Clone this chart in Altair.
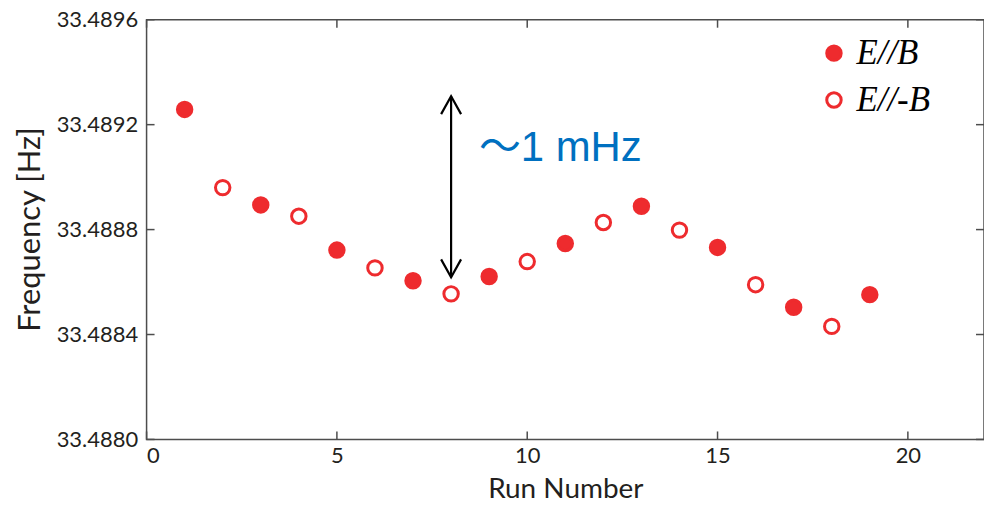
import altair as alt
import pandas as pd

# ---- data ----
runs = [1, 2, 3, 4, 5, 6, 7, 8, 9, 10, 11, 12, 13, 14, 15, 16, 17, 18, 19]
freq = [33.489258, 33.488960, 33.488894, 33.488851, 33.488722, 33.488654,
        33.488605, 33.488555, 33.488621, 33.488678, 33.488747, 33.488827,
        33.488889, 33.488798, 33.488732, 33.488590, 33.488504, 33.488431,
        33.488552]
orient = ["E//B", "E//-B", "E//B", "E//-B", "E//B", "E//-B", "E//B", "E//-B",
          "E//B", "E//-B", "E//B", "E//-B", "E//B", "E//-B", "E//B", "E//-B",
          "E//B", "E//-B", "E//B"]
categories = ["E//B", "E//-B"]

x_ticks = [0, 5, 10, 15, 20]
y_ticks = [33.4880, 33.4884, 33.4888, 33.4892, 33.4896]
x_domain = [0, 22]
y_domain = [33.4880, 33.4896]

arrow_x = [8]
arrow_top = [33.4893085]
arrow_bottom = [33.488618]
note_x = [8.73]
note_y = [33.489111]
note_text = ["～1 mHz"]

# ---- styling ----
RED = "#ee2b2e"
FRAME = "#4d4d4d"
TXT = "#231f20"
W, H = 840, 421
TICK = 8

xs = alt.Scale(domain=x_domain, nice=False, zero=False)
ys = alt.Scale(domain=y_domain, nice=False, zero=False)

x_axis = alt.Axis(values=x_ticks, tickSize=0, domain=False, grid=False,
                  labelFont="Lato", labelFontSize=22, labelColor=TXT, labelPadding=6,
                  title="Run Number", titleFont="Lato", titleFontSize=28,
                  titleFontWeight="normal", titleColor=TXT,
                  titleY=58, titleBaseline="alphabetic")
y_axis = alt.Axis(values=y_ticks, format=".4f", tickSize=0, domain=False, grid=False,
                  labelFont="Lato", labelFontSize=22, labelColor=TXT, labelPadding=9,
                  title="Frequency [Hz]", titleFont="Lato", titleFontSize=31,
                  titleFontWeight="normal", titleColor=TXT, titleAngle=270,
                  titleX=-107, titleY=210, titleBaseline="alphabetic", titleAlign="center")


def X(field):
    return alt.X(f"{field}:Q", scale=xs, axis=x_axis, title="Run Number")


def Y(field):
    return alt.Y(f"{field}:Q", scale=ys, axis=y_axis, title="Frequency [Hz]")


df = pd.DataFrame({"run": runs, "freq": freq, "orient": orient})

points = alt.Chart(df).mark_point(
    size=210, strokeWidth=3, stroke=RED, opacity=1, shape="circle"
).encode(
    x=X("run"),
    y=Y("freq"),
    fill=alt.Fill("orient:N",
                  scale=alt.Scale(domain=categories, range=[RED, "white"]),
                  legend=alt.Legend(orient="none", legendX=672, legendY=16,
                                    title=None, padding=0, rowPadding=11,
                                    symbolType="circle", symbolSize=210,
                                    symbolStrokeColor=RED, symbolStrokeWidth=3,
                                    symbolOpacity=1,
                                    labelFont="Liberation Serif", labelFontStyle="italic",
                                    labelFontSize=35, labelColor="black",
                                    labelOffset=5, labelLimit=300)),
)

arrow_df = pd.DataFrame({"x": arrow_x, "top": arrow_top, "bottom": arrow_bottom})
shaft = alt.Chart(arrow_df).mark_rule(color="black", strokeWidth=2.2).encode(
    x=X("x"), y=Y("top"), y2="bottom:Q")
head_top = alt.Chart(arrow_df).mark_point(
    shape="M-1,1.8L0,0L1,1.8", size=400, filled=False, stroke="black",
    strokeWidth=2.2, opacity=1).encode(x=X("x"), y=Y("top"))
head_bottom = alt.Chart(arrow_df).mark_point(
    shape="M-1,-1.8L0,0L1,-1.8", size=400, filled=False, stroke="black",
    strokeWidth=2.2, opacity=1).encode(x=X("x"), y=Y("bottom"))

note_df = pd.DataFrame({"x": note_x, "y": note_y, "t": note_text})
note = alt.Chart(note_df).mark_text(
    align="left", baseline="middle", fontSize=42,
    font="Liberation Sans, Noto Sans CJK JP", color="#0070c0"
).encode(x=X("x"), y=Y("y"), text="t:N")

# inward ticks on all four sides of the frame
xt = pd.DataFrame({"t": x_ticks})
yt = pd.DataFrame({"v": y_ticks})
tick_style = dict(color=FRAME, strokeWidth=1.5)
bottom_ticks = alt.Chart(xt).mark_rule(**tick_style).encode(
    x=X("t"), y=alt.value(H), y2=alt.value(H - TICK))
top_ticks = alt.Chart(xt).mark_rule(**tick_style).encode(
    x=X("t"), y=alt.value(0), y2=alt.value(TICK))
left_ticks = alt.Chart(yt).mark_rule(**tick_style).encode(
    y=Y("v"), x=alt.value(0), x2=alt.value(TICK))
right_ticks = alt.Chart(yt).mark_rule(**tick_style).encode(
    y=Y("v"), x=alt.value(W), x2=alt.value(W - TICK))

chart = alt.layer(
    bottom_ticks, top_ticks, left_ticks, right_ticks,
    shaft, head_top, head_bottom, note, points
).properties(
    width=W, height=H,
    padding={"left": 139, "top": 11, "right": 0, "bottom": 65},
    autosize=alt.AutoSizeParams(type="none"),
    background="white",
).configure_view(stroke=FRAME, strokeWidth=1.5)

chart.save("out.html", embed_options={"renderer": "svg", "actions": False})
